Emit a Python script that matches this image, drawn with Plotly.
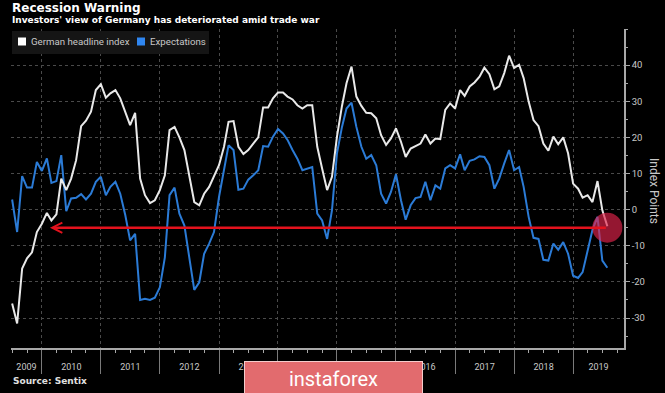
import plotly.graph_objects as go
import pandas as pd

# ---------------- data ----------------
start_month = "2009-07-01"
end_month = "2019-08-01"

headline = [
    -26, -31.5, -16.3, -13.5, -11.8, -6.2,                               # 2009 Jul-Dec
    -3.9, -0.9, -3, -1.3, 8.6, 5.4, 8.6, 13.7, 23.1, 24.6, 27.1, 33.1,    # 2010
    34.7, 31, 32.2, 33.1, 30.8, 27.1, 23.4, 26.8, 8.6, 4, 1.8, 2.6,       # 2011
    5.4, 9.5, 22, 22.9, 20, 16.5, 9.1, 2.1, 1.2, 4.4, 6.3, 9.1,           # 2012
    12.3, 17.4, 24.3, 24.5, 17.4, 15.4, 16.5, 18.3, 20, 28.3, 28.3, 30.8, # 2013
    32.4, 32.4, 31.3, 30.5, 28.9, 28, 28.9, 28.9, 17.4, 11.4, 5.4, 9.1,   # 2014
    20.2, 28.7, 35, 39.6, 31.3, 28.7, 26.8, 26.7, 25.3, 20.6, 17.9, 19.7, # 2015
    22.5, 18.8, 14.6, 16.9, 17.6, 18.3, 20.8, 18.3, 19.7, 19.5, 27.6, 29.4,  # 2016
    28, 33.1, 31.5, 34.1, 35.2, 36.8, 39.3, 37.5, 33.3, 34.1, 37.8, 42.6, # 2017
    39.2, 40.1, 36.4, 29.9, 24.8, 23.1, 18.3, 16.3, 20.2, 18.1, 20, 15.6, # 2018
    7.2, 5.8, 3.3, 4, 2.1, 7.9, -0.2, -4.6,                               # 2019 Jan-Aug
]

expectations = [
    2.8, -6.2, 9.3, 6.1, 6.1, 13.2,
    10.7, 14.2, 7.4, 7.9, 15.1, -0.4, 3.1, 3.3, 4.3, 2.8, 4.4, 7.7,
    9.1, 4, 6.3, 7.7, 4.4, -1.5, -8.5, -6.7, -25, -24.7, -25, -24.4,
    -21.5, -13.2, 4, 6.1, -1.1, -4.4, -13.2, -22.2, -20.1, -12.2, -9.4, -6.2,
    3.5, 10.9, 17.8, 16.5, 5.5, 5.8, 8.3, 9.5, 10.9, 17.6, 17.4, 20.2,
    22.3, 21.1, 19.3, 16.5, 14.1, 10.9, 11.4, 11.8, -1.1, -3, -8.1, -0.2,
    15.6, 22.9, 28, 29.6, 22.9, 17.4, 14.1, 15.1, 12.3, 4.4, 1.7, 4.9,
    9.8, 2.6, -2.8, 1.2, 3.2, 3.5, 7.7, 2.6, 6.7, 5.8, 11.4, 12.3,
    11.4, 15.3, 10.9, 13.5, 13.9, 14.8, 14.6, 12.3, 5.8, 8.6, 12.8, 16.5,
    10.9, 11.8, 6.3, -2, -7.8, -8.1, -13.9, -14.1, -9.4, -11.1, -9, -12.2,
    -18.3, -18.9, -17.3, -11.3, -5.6, -2, -14.1, -16.1,
]

years = list(range(2009, 2020))
y_tick_values = [-30, -20, -10, 0, 10, 20, 30, 40]
y_tick_labels = ["-30", "-20", "-10", "0", "10", "20", "30", "40"]

arrow_level = -5
arrow_tip_date = "2010-02-20"

series_names = ["German headline index", "Expectations"]
title_text = "Recession Warning"
subtitle_text = "Investors' view of Germany has deteriorated amid trade war"
source_text = "Source: Sentix"
axis_title = "Index Points"
watermark = "instaforex"

# ---------------- styling ----------------
WHITE = "#e9e9e9"
BLUE = "#2b7bd6"
RED = "#e3121d"
GRID = "#4a4a4a"
AXIS = "#a8a8a8"
TXT = "#c8c8c8"
SANS = "Roboto, Arial, sans-serif"
BOLD = "DejaVu Sans, Verdana, sans-serif"

W, H = 665, 393
ML, MR, MT, MB = 11, 41, 29, 45
PW, PH = W - ML - MR, H - MT - MB

x_range = [pd.Timestamp("2009-06-24"), pd.Timestamp("2019-11-12")]
y_range = [-38.3, 50]


def px_x(p):
    return (p - ML) / PW


def px_y(p):
    return (H - MB - p) / PH


dates = pd.date_range(start_month, end_month, freq="MS")

# label positions: centre of the visible part of each year
label_pos = []
for yr in years:
    a = max(pd.Timestamp(f"{yr}-01-01"), x_range[0])
    b = min(pd.Timestamp(f"{yr + 1}-01-01"), x_range[1])
    label_pos.append(a + (b - a) / 2)

fig = go.Figure()
fig.add_trace(go.Scatter(x=dates, y=expectations, mode="lines", name=series_names[1],
                         line=dict(color=BLUE, width=2), showlegend=False))
fig.add_trace(go.Scatter(x=dates, y=headline, mode="lines", name=series_names[0],
                         line=dict(color=WHITE, width=2), showlegend=False))
# helper trace so the label axis is drawn
fig.add_trace(go.Scatter(x=[dates[0]], y=[None], xaxis="x2", mode="lines",
                         showlegend=False, hoverinfo="skip"))

fig.update_layout(
    width=W, height=H,
    margin=dict(l=ML, r=MR, t=MT, b=MB, pad=0),
    paper_bgcolor="#000000", plot_bgcolor="#000000",
    showlegend=False,
    xaxis=dict(
        type="date", range=x_range, showgrid=True, gridcolor=GRID, griddash="dot",
        gridwidth=1, tickmode="linear", tick0="2009-01-01", dtick="M12",
        ticks="outside", ticklen=24, tickcolor="#7a7a7a", tickwidth=1,
        showticklabels=False, showline=True, linecolor=AXIS, linewidth=1.5,
        zeroline=False,
        minor=dict(tick0="2009-01-01", dtick="M3", ticks="outside", ticklen=3,
                   tickcolor=AXIS, showgrid=False),
    ),
    xaxis2=dict(
        type="date", range=x_range, overlaying="x", anchor="y", side="bottom",
        tickmode="array", tickvals=label_pos, ticktext=[str(y) for y in years],
        ticks="outside", ticklen=10, tickcolor="rgba(0,0,0,0)", showgrid=False,
        showline=False, zeroline=False,
        tickfont=dict(family=SANS, size=9, color=TXT),
    ),
    yaxis=dict(
        side="right", range=y_range, tickmode="array", tickvals=y_tick_values,
        ticktext=y_tick_labels, ticks="outside", ticklen=4, tickcolor=AXIS,
        showline=True, linecolor=AXIS, linewidth=1.5, showgrid=True,
        gridcolor=GRID, griddash="dot", zeroline=False,
        tickfont=dict(family=SANS, size=9.5, color=TXT),
        minor=dict(dtick=5, tick0=0, ticks="outside", ticklen=2, tickcolor=AXIS,
                   showgrid=False),
    ),
)

shapes = []
# legend box and swatches
shapes.append(dict(type="rect", xref="paper", yref="paper", x0=px_x(12), x1=px_x(209),
                   y0=px_y(54), y1=px_y(31), fillcolor="#151515", line=dict(width=0),
                   layer="above"))
shapes.append(dict(type="rect", xref="paper", yref="paper", x0=px_x(18), x1=px_x(26),
                   y0=px_y(45.5), y1=px_y(37.5), fillcolor="#ffffff", line=dict(width=0),
                   layer="above"))
shapes.append(dict(type="rect", xref="paper", yref="paper", x0=px_x(137), x1=px_x(145),
                   y0=px_y(45.5), y1=px_y(37.5), fillcolor="#2f86f0", line=dict(width=0),
                   layer="above"))
# highlight circle on the latest reading
shapes.append(dict(type="circle", xref="x", yref="y", xsizemode="pixel", ysizemode="pixel",
                   xanchor=dates[-1], yanchor=arrow_level, x0=-15, x1=15, y0=-15, y1=15,
                   fillcolor="rgba(225,35,75,0.66)", line=dict(width=0), layer="above"))
fig.update_layout(shapes=shapes)

ann = []
ann.append(dict(x=arrow_tip_date, y=arrow_level, ax=dates[-1], ay=arrow_level,
                xref="x", yref="y", axref="x", ayref="y", text="", showarrow=True,
                arrowhead=5, arrowsize=0.8, arrowwidth=2.5, arrowcolor=RED))
ann.append(dict(x=px_x(29), y=px_y(41.5), xref="paper", yref="paper", xanchor="left",
                yanchor="middle", text=series_names[0], showarrow=False,
                font=dict(family=SANS, size=9.7, color=TXT)))
ann.append(dict(x=px_x(148), y=px_y(41.5), xref="paper", yref="paper", xanchor="left",
                yanchor="middle", text=series_names[1], showarrow=False,
                font=dict(family=SANS, size=9.7, color=TXT)))
ann.append(dict(x=px_x(10), y=px_y(-1), xref="paper", yref="paper", xanchor="left",
                yanchor="top", text=f"<b>{title_text}</b>", showarrow=False,
                font=dict(family=BOLD, size=12, color="#ffffff")))
ann.append(dict(x=px_x(10), y=px_y(13), xref="paper", yref="paper", xanchor="left",
                yanchor="top", text=f"<b>{subtitle_text}</b>", showarrow=False,
                font=dict(family=BOLD, size=9, color="#ffffff")))
ann.append(dict(x=px_x(11), y=px_y(381), xref="paper", yref="paper", xanchor="left",
                yanchor="middle", text=f"<b>{source_text}</b>", showarrow=False,
                font=dict(family=BOLD, size=9, color="#e0e0e0")))
ann.append(dict(x=px_x(654), y=px_y(191), xref="paper", yref="paper", xanchor="center",
                yanchor="middle", text=axis_title, textangle=90, showarrow=False,
                font=dict(family=SANS, size=12, color=TXT)))
ann.append(dict(x=px_x(244), y=px_y(361), xref="paper", yref="paper", xanchor="left",
                yanchor="top", text=watermark, showarrow=False, width=177, height=34,
                align="center", valign="middle", bgcolor="#e26b6e", bordercolor="#f4cccc",
                borderwidth=1, borderpad=0,
                font=dict(family=SANS, size=20, color="#ffffff")))
fig.update_layout(annotations=ann)

fig.write_html("out.html", config={"displayModeBar": False},
               post_script="document.body.style.margin='0px';document.body.style.overflow='hidden';")
